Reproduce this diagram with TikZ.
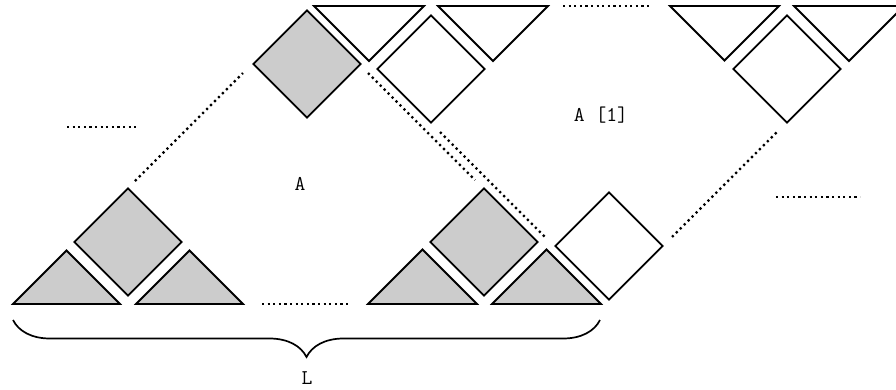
\documentclass[tikz,border=0pt]{standalone}
\usepackage{fontspec}
\usetikzlibrary{shapes.geometric,decorations.pathreplacing}
\tikzset{
    cell diamond/.style={
        draw,
        diamond,
        line width=1.8pt,
        minimum width=108pt,
        minimum height=108pt,
        inner sep=0pt,
        fill=white
    },
    cell tri/.style={draw, line width=1.8pt, line join=miter, fill=white},
    cell used/.style={fill=black!20},
    gap dots/.style={line width=2.2pt, dash pattern=on 2.2pt off 3.4pt},
    level label/.style={font=\ttfamily\fontsize{21}{24}\selectfont\addfontfeatures{FakeBold=0.5}, inner sep=0pt},
    size brace/.style={decorate, decoration={brace, mirror, amplitude=37pt}, line width=1.7pt}
}

\begin{document}
\begin{tikzpicture}[x=1pt,y=-1pt]
    \useasboundingbox (0,0) rectangle (896,389);

    % bottom row, left block
    \draw[cell tri, cell used] (13,304) -- (66.5,250.5) -- (120,304) -- cycle;
    \draw[cell tri, cell used] (136,304) -- (189.5,250.5) -- (243,304) -- cycle;
    \node[cell diamond, cell used] (d1) at (128,242) {};

    % bottom row, right block
    \draw[cell tri, cell used] (368,304) -- (422.5,249.5) -- (477,304) -- cycle;
    \draw[cell tri, cell used] (492,304) -- (546.5,249.5) -- (601,304) -- cycle;
    \node[cell diamond, cell used] (d2) at (484,242) {};
    \node[cell diamond] (d3) at (609,246) {};

    % top row
    \node[cell diamond, cell used] (d4) at (307,64) {};
    \draw[cell tri] (314,6) -- (369,61) -- (424,6) -- cycle;
    \draw[cell tri] (438,6) -- (493,61) -- (548,6) -- cycle;
    \node[cell diamond] (d5) at (431,69) {};
    \draw[cell tri] (670,6) -- (724.5,60.5) -- (779,6) -- cycle;
    \draw[cell tri] (794,6) -- (849,61) -- (904,6) -- cycle;
    \node[cell diamond] (d6) at (787,69) {};

    % labels
    \node[level label] (lvl) at (300,184) {A};
    \node[level label] (lvlnext) at (601,115) {A [1]};
    \node[level label] (len) at (307,378) {L};

    % ends of the dotted runs
    \coordinate (h1a) at (67,127);   \coordinate (h1b) at (137,127);
    \coordinate (h2a) at (262,304);  \coordinate (h2b) at (350,304);
    \coordinate (h3a) at (563,6);    \coordinate (h3b) at (652,6);
    \coordinate (h4a) at (776,197);  \coordinate (h4b) at (860,197);
    \coordinate (g1a) at (135,181);  \coordinate (g1b) at (243,73);
    \coordinate (g2a) at (368,73);   \coordinate (g2b) at (475,180);
    \coordinate (g3a) at (440,132);  \coordinate (g3b) at (545,237);
    \coordinate (g4a) at (672,237);  \coordinate (g4b) at (778,131);

    \draw[gap dots] (h1a) -- (h1b);
    \draw[gap dots] (h2a) -- (h2b);
    \draw[gap dots] (h3a) -- (h3b);
    \draw[gap dots] (h4a) -- (h4b);
    \draw[gap dots] (g1a) -- (g1b);
    \draw[gap dots] (g2a) -- (g2b);
    \draw[gap dots] (g3a) -- (g3b);
    \draw[gap dots] (g4a) -- (g4b);

    % brace under the bottom row
    \coordinate (bl) at (13,320);
    \coordinate (br) at (600,320);
    \draw[size brace] (bl) -- (br);
\end{tikzpicture}
\end{document}
